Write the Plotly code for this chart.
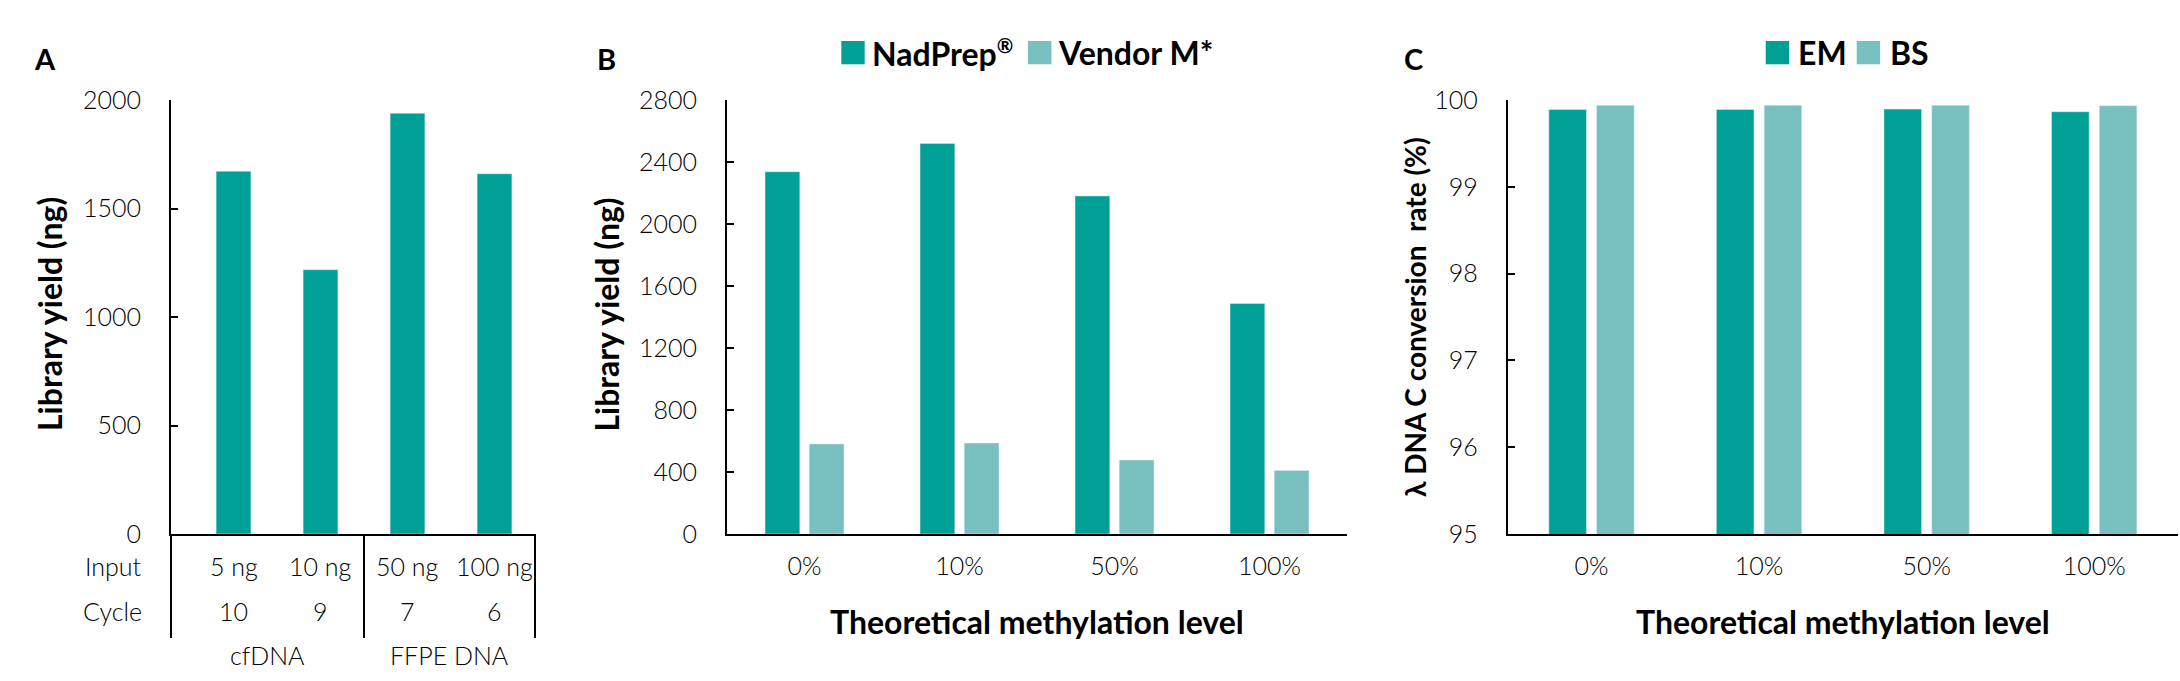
import plotly.graph_objects as go

# ---------------- data ----------------
a_inputs = ["5 ng", "10 ng", "50 ng", "100 ng"]
a_cycles = ["10", "9", "7", "6"]
a_groups = ["cfDNA", "FFPE DNA"]
a_yield = [1672, 1218, 1939, 1660]

b_levels = ["0%", "10%", "50%", "100%"]
b_nadprep = [2337, 2520, 2181, 1487]
b_vendor = [581, 587, 477, 410]
b_names = ["NadPrep<sup><span style='font-size:20px'>®</span></sup>", "Vendor M*"]

c_levels = ["0%", "10%", "50%", "100%"]
c_em = [99.89, 99.89, 99.895, 99.865]
c_bs = [99.94, 99.94, 99.94, 99.935]
c_names = ["EM", "BS"]

DARK = "#00A096"
LIGHT = "#78BFBF"

W, H = 2180, 681
FONT = "Lato"


def px(x):
    return x / W


def py(y):
    return 1 - y / H


fig = go.Figure()

# ---- panel A ----
fig.add_trace(go.Bar(x=list(range(len(a_inputs))), y=a_yield, marker_color=DARK,
                     width=0.40, xaxis="x", yaxis="y", showlegend=False))
# ---- panel B ----
fig.add_trace(go.Bar(x=b_levels, y=b_nadprep, marker_color=DARK, name="NadPrep®",
                     xaxis="x2", yaxis="y2", showlegend=False))
fig.add_trace(go.Bar(x=b_levels, y=b_vendor, marker_color=LIGHT, name=b_names[1],
                     xaxis="x2", yaxis="y2", showlegend=False))
# ---- panel C ----
fig.add_trace(go.Bar(x=c_levels, y=c_em, marker_color=DARK, name=c_names[0],
                     xaxis="x3", yaxis="y3", showlegend=False))
fig.add_trace(go.Bar(x=c_levels, y=c_bs, marker_color=LIGHT, name=c_names[1],
                     xaxis="x3", yaxis="y3", showlegend=False))

ydom = [py(534), py(100)]
a_range = [-0.7184, 3.4655]

tickfont = dict(family=FONT, size=25, color="black", weight=300)
common_y = dict(showgrid=False, zeroline=False, showline=True, linecolor="black",
                linewidth=2, ticks="inside", ticklen=7, tickwidth=2, tickcolor="black",
                tickfont=tickfont, ticklabelstandoff=23, domain=ydom, automargin=False)
common_x = dict(showgrid=False, zeroline=False, showline=True, linecolor="black",
                linewidth=2, ticks="", tickfont=tickfont, ticklabelstandoff=9,
                automargin=False)

fig.update_layout(
    width=W, height=H, margin=dict(l=0, r=0, t=0, b=0, pad=0, autoexpand=False),
    paper_bgcolor="white", plot_bgcolor="white",
    barmode="group", bargap=0.43, bargroupgap=0.213,
    font=dict(family=FONT, color="black"),
    xaxis=dict(common_x, domain=[px(171), px(535)], range=a_range, showticklabels=False,
               anchor="y"),
    yaxis=dict(common_y, range=[0, 2000], dtick=500, anchor="x"),
    xaxis2=dict(common_x, domain=[px(727), px(1347)], range=[-0.5, 3.5], anchor="y2",
                type="category"),
    yaxis2=dict(common_y, range=[0, 2800], dtick=400, anchor="x2"),
    xaxis3=dict(common_x, domain=[px(1507.7), px(2178)], range=[-0.5, 3.5], anchor="y3",
                type="category"),
    yaxis3=dict(common_y, range=[95, 100], dtick=1, anchor="x3"),
)

ann = []
letterfont = dict(family=FONT, size=29, color="black", weight=700)
for t, x in (("A", 44.6), ("B", 607), ("C", 1413)):
    ann.append(dict(text=t, x=px(x), y=py(58.5), xref="paper", yref="paper",
                    showarrow=False, font=letterfont, xanchor="center", yanchor="middle"))
titlefont = dict(family=FONT, size=32, color="black", weight=700)
ctitlefont = dict(family=FONT, size=28, color="black", weight=700)
for t, x, y, f in (("Library yield (ng)", 49, 314, titlefont),
                   ("Library yield (ng)", 607, 314.6, titlefont),
                   ("λ DNA C conversion  rate (%)", 1415, 317, ctitlefont)):
    ann.append(dict(text=t, x=px(x), y=py(y), xref="paper", yref="paper", textangle=-90,
                    showarrow=False, font=f, xanchor="center", yanchor="middle"))
for x in (1037, 1843):
    ann.append(dict(text="Theoretical methylation level", x=px(x), y=py(621.7),
                    xref="paper", yref="paper", showarrow=False, font=titlefont,
                    xanchor="center", yanchor="middle"))

# panel A table
row_y = (566, 610.5)
for lab, y in zip(("Input", "Cycle"), row_y):
    ann.append(dict(text=lab, x=px(144), y=py(y), xref="paper", yref="paper",
                    showarrow=False, font=tickfont, xanchor="right", yanchor="middle"))
for i, (inp, cyc) in enumerate(zip(a_inputs, a_cycles)):
    ann.append(dict(text=inp, x=i, y=py(row_y[0]), xref="x", yref="paper",
                    showarrow=False, font=tickfont, xanchor="center", yanchor="middle"))
    ann.append(dict(text=cyc, x=i, y=py(row_y[1]), xref="x", yref="paper",
                    showarrow=False, font=tickfont, xanchor="center", yanchor="middle"))
split = 1.5
group_x = [(a_range[0] + split) / 2, (split + a_range[1]) / 2]
for g, gx in zip(a_groups, group_x):
    ann.append(dict(text=g, x=gx, y=py(654.5), xref="x", yref="paper",
                    showarrow=False, font=tickfont, xanchor="center", yanchor="middle"))

shapes = []
for xv, xr in ((0, "x domain"), (split, "x"), (1, "x domain")):
    shapes.append(dict(type="line", xref=xr, yref="paper", x0=xv, x1=xv,
                       y0=ydom[0], y1=py(638), line=dict(color="black", width=2)))

# legends (B and C)
legfont = dict(family=FONT, size=32, color="black", weight=700)
for (sx0, tx, name, col) in ((841.3, 870, b_names[0], DARK), (1028, 1056, b_names[1], LIGHT),
                             (1765.7, 1796, c_names[0], DARK), (1856.7, 1888, c_names[1], LIGHT)):
    shapes.append(dict(type="rect", xref="paper", yref="paper", x0=px(sx0), x1=px(sx0 + 23.4),
                       y0=py(64.3), y1=py(41), fillcolor=col, line=dict(width=0)))
    ann.append(dict(text=name, x=px(tx), y=py(53), xref="paper", yref="paper",
                    showarrow=False, font=legfont, xanchor="left", yanchor="middle"))

fig.update_layout(annotations=ann, shapes=shapes)
fig.write_html("out.html", config={"displayModeBar": False},
               post_script="document.body.style.margin='0';document.body.style.padding='0';")
